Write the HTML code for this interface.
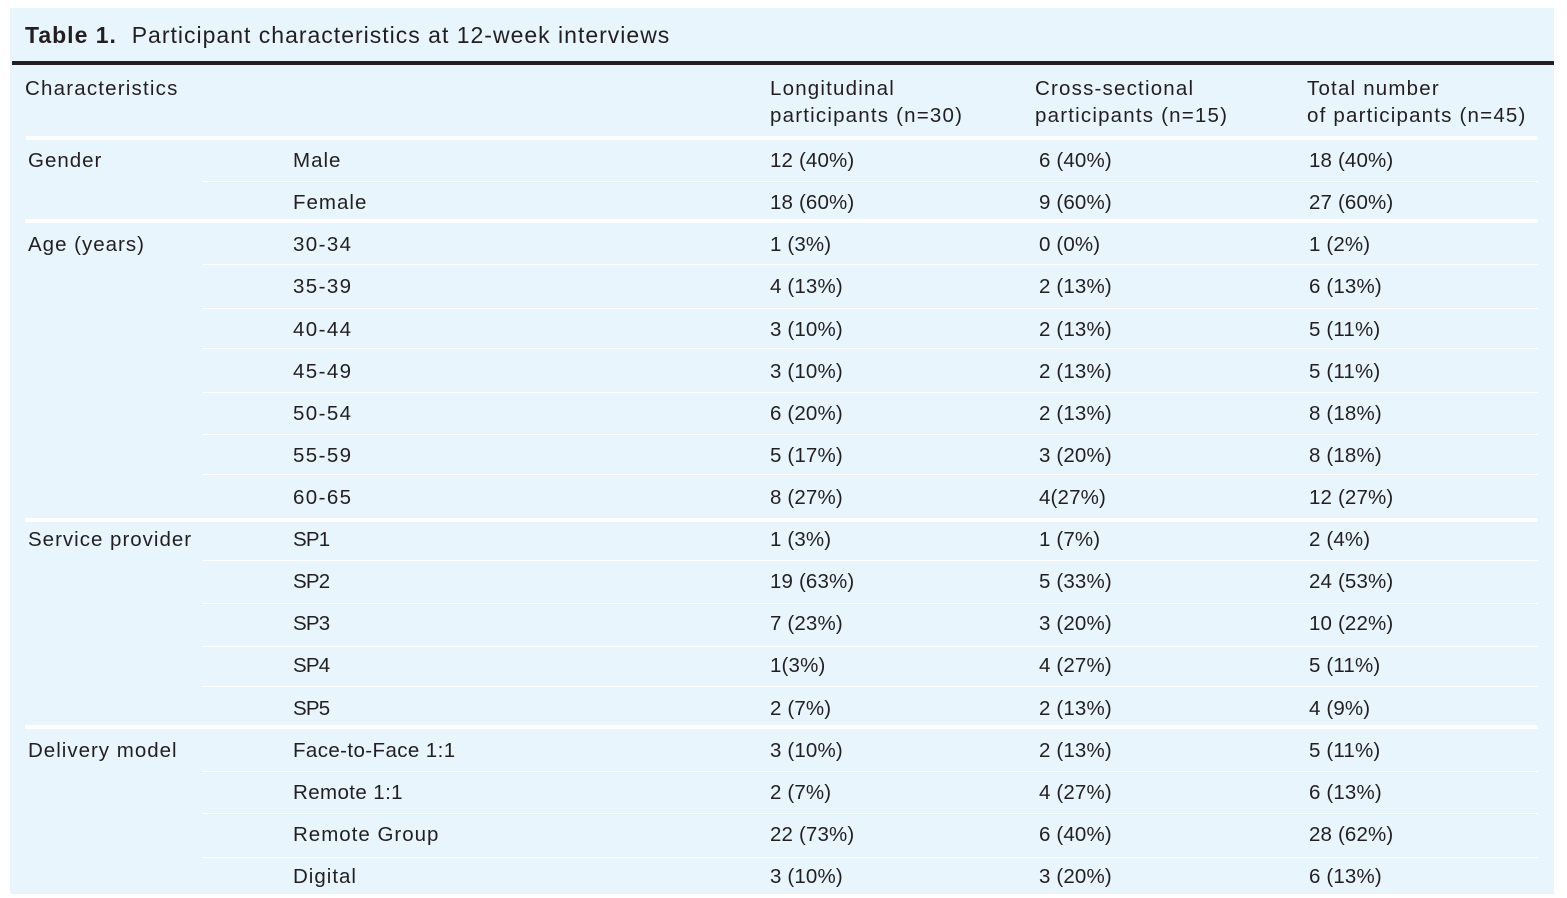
<!DOCTYPE html>
<html>
<head>
<meta charset="utf-8">
<style>
  html, body { margin:0; padding:0; }
  body { width:1567px; height:894px; background:#ffffff; position:relative; overflow:hidden;
         font-family:"Liberation Sans", Arial, sans-serif; color:#231f20; }
  .panel { position:absolute; left:10px; top:8px; width:1544px; height:886px; background:#e8f5fd; }
  .t { position:absolute; white-space:nowrap; font-size:20.5px; line-height:42px; height:42px; }
  .l { letter-spacing:1px; }
  .n { letter-spacing:0.15px; }
  .a { letter-spacing:1.4px; }
  .s { letter-spacing:-0.8px; }
  .m { letter-spacing:0.4px; }
  .hline { position:absolute; background:#ffffff; }
  .title { position:absolute; left:25px; top:12px; font-size:23px; line-height:46px; white-space:nowrap; letter-spacing:1px; }
  .title b { letter-spacing:1px; }
  .hdr { position:absolute; font-size:20.5px; line-height:26.5px; white-space:nowrap; letter-spacing:1.2px; }
</style>
</head>
<body>
<div class="panel"></div>
<div class="title"><b>Table 1.</b>&nbsp; Participant characteristics at 12-week interviews</div>
<div style="position:absolute;left:12px;top:61px;width:1542px;height:4px;background:#231f20;"></div>

<!-- header -->
<div class="hdr" style="left:25px;top:76px;">Characteristics</div>
<div class="hdr" style="left:770px;top:76px;">Longitudinal<br>participants (n=30)</div>
<div class="hdr" style="left:1035px;top:76px;">Cross-sectional<br>participants (n=15)</div>
<div class="hdr" style="left:1307px;top:76px;">Total number<br>of participants (n=45)</div>

<!-- separators -->
<div class="hline" style="left:26px;top:136px;width:1512px;height:4px;"></div>
<div class="hline" style="left:25px;top:219px;width:1513px;height:4px;"></div>
<div class="hline" style="left:25px;top:518px;width:1513px;height:4px;"></div>
<div class="hline" style="left:25px;top:725px;width:1513px;height:4px;"></div>

<div class="hline" style="left:202px;top:181px;width:1336px;height:1px;"></div>
<div class="hline" style="left:202px;top:264px;width:1336px;height:1px;"></div>
<div class="hline" style="left:202px;top:308px;width:1336px;height:1px;"></div>
<div class="hline" style="left:202px;top:348px;width:1336px;height:1px;"></div>
<div class="hline" style="left:202px;top:392px;width:1336px;height:1px;"></div>
<div class="hline" style="left:202px;top:434px;width:1336px;height:1px;"></div>
<div class="hline" style="left:202px;top:474px;width:1336px;height:1px;"></div>
<div class="hline" style="left:202px;top:560px;width:1336px;height:1px;"></div>
<div class="hline" style="left:202px;top:603px;width:1336px;height:1px;"></div>
<div class="hline" style="left:202px;top:646px;width:1336px;height:1px;"></div>
<div class="hline" style="left:202px;top:686px;width:1336px;height:1px;"></div>
<div class="hline" style="left:202px;top:771px;width:1336px;height:1px;"></div>
<div class="hline" style="left:202px;top:813px;width:1336px;height:1px;"></div>
<div class="hline" style="left:202px;top:857px;width:1336px;height:1px;"></div>

<!-- group labels -->
<div class="t l" style="left:28px;top:140px;">Gender</div>
<div class="t l" style="left:28px;top:224px;">Age (years)</div>
<div class="t l" style="left:28px;top:519px;">Service provider</div>
<div class="t l" style="left:28px;top:730px;">Delivery model</div>

<!-- row 0 -->
<div class="t l" style="left:293px;top:140px;">Male</div>
<div class="t n" style="left:770px;top:140px;">12 (40%)</div>
<div class="t n" style="left:1039px;top:140px;">6 (40%)</div>
<div class="t n" style="left:1309px;top:140px;">18 (40%)</div>
<!-- row 1 -->
<div class="t l" style="left:293px;top:182px;">Female</div>
<div class="t n" style="left:770px;top:182px;">18 (60%)</div>
<div class="t n" style="left:1039px;top:182px;">9 (60%)</div>
<div class="t n" style="left:1309px;top:182px;">27 (60%)</div>
<!-- row 2 -->
<div class="t a" style="left:293px;top:224px;">30-34</div>
<div class="t n" style="left:770px;top:224px;">1 (3%)</div>
<div class="t n" style="left:1039px;top:224px;">0 (0%)</div>
<div class="t n" style="left:1309px;top:224px;">1 (2%)</div>
<!-- row 3 -->
<div class="t a" style="left:293px;top:266px;">35-39</div>
<div class="t n" style="left:770px;top:266px;">4 (13%)</div>
<div class="t n" style="left:1039px;top:266px;">2 (13%)</div>
<div class="t n" style="left:1309px;top:266px;">6 (13%)</div>
<!-- row 4 -->
<div class="t a" style="left:293px;top:309px;">40-44</div>
<div class="t n" style="left:770px;top:309px;">3 (10%)</div>
<div class="t n" style="left:1039px;top:309px;">2 (13%)</div>
<div class="t n" style="left:1309px;top:309px;">5 (11%)</div>
<!-- row 5 -->
<div class="t a" style="left:293px;top:351px;">45-49</div>
<div class="t n" style="left:770px;top:351px;">3 (10%)</div>
<div class="t n" style="left:1039px;top:351px;">2 (13%)</div>
<div class="t n" style="left:1309px;top:351px;">5 (11%)</div>
<!-- row 6 -->
<div class="t a" style="left:293px;top:393px;">50-54</div>
<div class="t n" style="left:770px;top:393px;">6 (20%)</div>
<div class="t n" style="left:1039px;top:393px;">2 (13%)</div>
<div class="t n" style="left:1309px;top:393px;">8 (18%)</div>
<!-- row 7 -->
<div class="t a" style="left:293px;top:435px;">55-59</div>
<div class="t n" style="left:770px;top:435px;">5 (17%)</div>
<div class="t n" style="left:1039px;top:435px;">3 (20%)</div>
<div class="t n" style="left:1309px;top:435px;">8 (18%)</div>
<!-- row 8 -->
<div class="t a" style="left:293px;top:477px;">60-65</div>
<div class="t n" style="left:770px;top:477px;">8 (27%)</div>
<div class="t n" style="left:1039px;top:477px;">4(27%)</div>
<div class="t n" style="left:1309px;top:477px;">12 (27%)</div>
<!-- row 9 -->
<div class="t s" style="left:293px;top:519px;">SP1</div>
<div class="t n" style="left:770px;top:519px;">1 (3%)</div>
<div class="t n" style="left:1039px;top:519px;">1 (7%)</div>
<div class="t n" style="left:1309px;top:519px;">2 (4%)</div>
<!-- row 10 -->
<div class="t s" style="left:293px;top:561px;">SP2</div>
<div class="t n" style="left:770px;top:561px;">19 (63%)</div>
<div class="t n" style="left:1039px;top:561px;">5 (33%)</div>
<div class="t n" style="left:1309px;top:561px;">24 (53%)</div>
<!-- row 11 -->
<div class="t s" style="left:293px;top:603px;">SP3</div>
<div class="t n" style="left:770px;top:603px;">7 (23%)</div>
<div class="t n" style="left:1039px;top:603px;">3 (20%)</div>
<div class="t n" style="left:1309px;top:603px;">10 (22%)</div>
<!-- row 12 -->
<div class="t s" style="left:293px;top:645px;">SP4</div>
<div class="t n" style="left:770px;top:645px;">1(3%)</div>
<div class="t n" style="left:1039px;top:645px;">4 (27%)</div>
<div class="t n" style="left:1309px;top:645px;">5 (11%)</div>
<!-- row 13 -->
<div class="t s" style="left:293px;top:688px;">SP5</div>
<div class="t n" style="left:770px;top:688px;">2 (7%)</div>
<div class="t n" style="left:1039px;top:688px;">2 (13%)</div>
<div class="t n" style="left:1309px;top:688px;">4 (9%)</div>
<!-- row 14 -->
<div class="t m" style="left:293px;top:730px;">Face-to-Face 1:1</div>
<div class="t n" style="left:770px;top:730px;">3 (10%)</div>
<div class="t n" style="left:1039px;top:730px;">2 (13%)</div>
<div class="t n" style="left:1309px;top:730px;">5 (11%)</div>
<!-- row 15 -->
<div class="t m" style="left:293px;top:772px;">Remote 1:1</div>
<div class="t n" style="left:770px;top:772px;">2 (7%)</div>
<div class="t n" style="left:1039px;top:772px;">4 (27%)</div>
<div class="t n" style="left:1309px;top:772px;">6 (13%)</div>
<!-- row 16 -->
<div class="t l" style="left:293px;top:814px;">Remote Group</div>
<div class="t n" style="left:770px;top:814px;">22 (73%)</div>
<div class="t n" style="left:1039px;top:814px;">6 (40%)</div>
<div class="t n" style="left:1309px;top:814px;">28 (62%)</div>
<!-- row 17 -->
<div class="t l" style="left:293px;top:856px;">Digital</div>
<div class="t n" style="left:770px;top:856px;">3 (10%)</div>
<div class="t n" style="left:1039px;top:856px;">3 (20%)</div>
<div class="t n" style="left:1309px;top:856px;">6 (13%)</div>
</body>
</html>
